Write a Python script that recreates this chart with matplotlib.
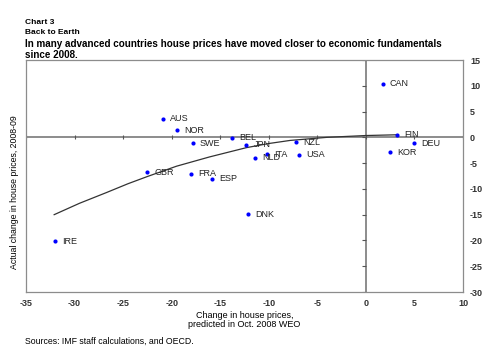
import numpy as np
import matplotlib
matplotlib.use('Agg')
import matplotlib.pyplot as plt

plt.rcParams['font.family'] = ['Liberation Sans', 'DejaVu Sans']

# Country points
countries = ['AUS', 'NOR', 'SWE', 'BEL', 'JPN', 'NLD', 'ITA', 'GBR', 'FRA', 'ESP',
             'DNK', 'IRE', 'CAN', 'FIN', 'DEU', 'KOR', 'NZL', 'USA']
predicted = [-20.9, -19.4, -17.8, -13.8, -12.3, -11.4, -10.2, -22.5, -18.0, -15.8,
             -12.1, -32.0, 1.75, 3.2, 5.0, 2.5, -7.2, -6.9]
actual = [3.6, 1.4, -1.1, -0.1, -1.4, -4.0, -3.3, -6.8, -7.1, -8.0,
          -14.9, -20.2, 10.4, 0.5, -1.1, -2.9, -1.0, -3.4]

# Trend curve, points
trend_x = [-32.1, -29.5, -26.7, -24.5, -22.5, -19.5, -16.1, -12.3, -10.0, -7.8, -4.0, 0.0, 3.3]
trend_y = [-15.0, -12.8, -10.7, -9.0, -7.6, -5.6, -3.8, -2.0, -1.2, -0.6, 0.0, 0.35, 0.5]

xticks = [-35, -30, -25, -20, -15, -10, -5, 0, 5, 10]
yticks = [15, 10, 5, 0, -5, -10, -15, -20, -25, -30]

fig = plt.figure(figsize=(4.93, 3.6), dpi=100)
ax = fig.add_axes([26 / 493, 1 - 292 / 360, (463 - 26) / 493, (292 - 60) / 360])

ax.set_xlim(-35, 10)
ax.set_ylim(-30, 15)

gray = '#8c8c8c'
for s in ax.spines.values():
    s.set_color(gray)
    s.set_linewidth(0.9)

# zero lines with their own tick marks
ax.axhline(0, color=gray, lw=1.4, zorder=1)
ax.axvline(0, color=gray, lw=1.4, zorder=1)
ax.plot(xticks, np.zeros(len(xticks)), ls='none', marker='|', ms=3.5, mew=0.8,
        color='#555555', zorder=1)
ax.plot(np.zeros(len(yticks)), yticks, ls='none', marker=0, ms=3, mew=0.8,
        color='#555555', zorder=1)

ax.plot(trend_x, trend_y, color='#333333', lw=0.9, zorder=2)
ax.scatter(predicted, actual, s=9, color='#0000ff', zorder=3, linewidths=0)
for name, x, y in zip(countries, predicted, actual):
    ax.annotate(name, (x, y), xytext=(5, 0), textcoords='offset points',
                fontsize=6.5, color='#222222', va='center', ha='left')

ax.set_xticks(xticks)
ax.set_yticks(yticks)
ax.tick_params(axis='both', length=0, labelsize=6.5, colors='#333333')
ax.tick_params(axis='x', pad=5)
ax.yaxis.tick_right()
ax.tick_params(axis='y', pad=5)
ax.set_xticklabels([str(t) for t in xticks], fontweight='bold')
ax.set_yticklabels([str(t) for t in yticks], fontweight='bold')

ax.set_xlabel('Change in house prices,\npredicted in Oct. 2008 WEO', fontsize=6.5,
              labelpad=2, linespacing=1.0)
fig.text(15 / 493, 1 - 192 / 360, 'Actual change in house prices, 2008-09',
         rotation=90, fontsize=6.3, ha='center', va='center')

fig.text(25 / 493, 1 - 22 / 360, 'Chart 3', fontsize=6, fontweight='bold', va='center')
fig.text(25 / 493, 1 - 32 / 360, 'Back to Earth', fontsize=6, fontweight='bold', va='center')
fig.text(25 / 493, 1 - 44 / 360,
         'In many advanced countries house prices have moved closer to economic fundamentals',
         fontsize=7.1, fontweight='bold', va='center')
fig.text(25 / 493, 1 - 55 / 360, 'since 2008.', fontsize=7.1, fontweight='bold', va='center')
fig.text(25 / 493, 1 - 341 / 360, 'Sources: IMF staff calculations, and OECD.',
         fontsize=6.3, va='center')

fig.savefig('out.png', dpi=100)
